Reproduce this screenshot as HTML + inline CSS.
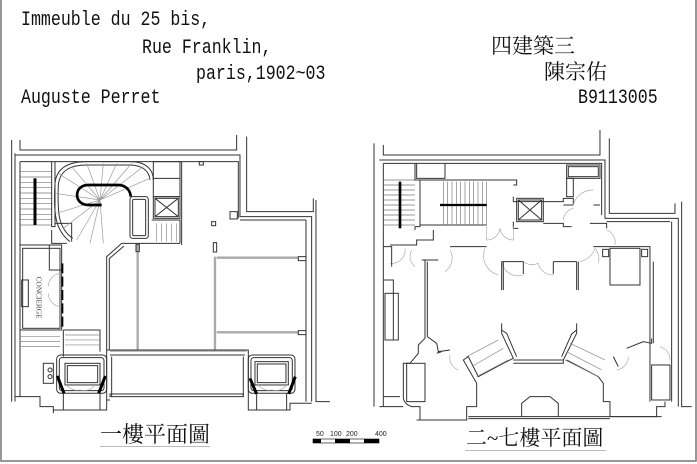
<!DOCTYPE html>
<html><head><meta charset="utf-8"><style>
html,body{margin:0;padding:0;background:#fff;}
body{width:697px;height:464px;position:relative;overflow:hidden;}
.t{position:absolute;font-family:"Liberation Mono",monospace;font-size:16.6px;color:#111;white-space:pre;line-height:1;transform:scaleY(1.2);transform-origin:0 100%;}
.c{position:absolute;font-family:"Liberation Serif","Noto Serif CJK SC","Noto Sans CJK TC",serif;color:#111;white-space:pre;line-height:1;}
svg{position:absolute;left:0;top:0;}
</style></head><body>
<div class="t" style="left:21px;top:14px">Immeuble du 25 bis,</div>
<div class="t" style="left:142px;top:42px">Rue Franklin,</div>
<div class="t" style="left:196px;top:68px">paris,1902~03</div>
<div class="t" style="left:21px;top:92px">Auguste Perret</div>
<div class="t" style="left:578px;top:92px">B9113005</div>
<div class="c" style="left:491px;top:36px;font-size:21px">四建築三</div>
<div class="c" style="left:544px;top:62px;font-size:21px">陳宗佑</div>
<div class="c" style="left:100px;top:424px;font-size:22px">一樓平面圖</div>
<div class="c" style="left:466px;top:428px;font-size:21px">二~七樓平面圖</div>
<svg width="697" height="464" viewBox="0 0 697 464">
<rect x="1" y="-2" width="695" height="463" fill="none" stroke="#777" stroke-width="1.5"/>
<line x1="100" y1="446.5" x2="210" y2="446.5" stroke="#bbb"/>
<line x1="465" y1="450.5" x2="606" y2="450.5" stroke="#bbb"/>
<g font-family="Liberation Sans,sans-serif" font-size="7" fill="#222"><text x="316" y="436">50</text><text x="330" y="436">100</text><text x="346" y="436">200</text><text x="375" y="436">400</text></g>
<rect x="313" y="439" width="66" height="4" fill="#fff" stroke="#000" stroke-width="0.6"/>
<rect x="313" y="439" width="8" height="4" fill="#000"/><rect x="335" y="439" width="15" height="4" fill="#000"/><rect x="364" y="439" width="15" height="4" fill="#000"/>

<!-- PLAN 1 -->
<g transform="translate(0,130) scale(0.3333)" fill="none" stroke="#333" stroke-width="3">
<path d="M35 30 V815 M45 70 V815 M60 30 V60 H710 V15 M740 20 V245 H940 V205 M948 210 V815 H990"/>
<path d="M45 75 H720 V260 H935 V815 M60 95 H715 V265 M918 270 V815 M720 270 H918 M60 95 V800"/>
<path d="M45 800 H120 V830 H160 V840 H320 V810 H330 M745 810 V840 H870 V820 H935" />
<g stroke="#777" stroke-width="2"><path d="M60 125 H155 M60 141 H155 M60 157 H155 M60 173 H155 M60 189 H155 M60 205 H155 M60 221 H155 M60 237 H155 M60 253 H155 M60 269 H155 M60 285 H155"/></g>
<line x1="105" y1="145" x2="105" y2="285" stroke="#000" stroke-width="9"/>
<path d="M155 95 V290 H165 V95 M165 280 H215 V335 M155 300 V340 H200"/>
<path d="M210 335 C165 300 160 250 165 160 C170 110 210 95 260 95 L390 95 C440 95 460 120 460 150"/>
<path d="M218 325 C175 295 172 250 175 165 C180 118 215 105 262 105 L388 105 C430 105 448 125 450 150"/>
<g stroke="#999" stroke-width="2"><path d="M300 210 L175 130 M300 210 L165 190 M300 210 L170 250 M300 210 L190 295 M300 210 L230 330 M300 210 L270 340 M300 210 L310 340 M300 210 L215 110 M300 210 L260 100 M300 210 L310 100 M300 210 L350 100 M300 210 L395 100 M300 210 L430 110 M300 210 L450 145"/></g>
<path d="M305 225 L265 225 C220 225 220 165 265 165 L355 165 C380 165 392 185 392 200" stroke="#000" stroke-width="8"/>
<rect x="390" y="200" width="55" height="125" rx="8"/><rect x="398" y="208" width="39" height="109" rx="4"/>
<rect x="460" y="95" width="80" height="105"/><line x1="460" y1="145" x2="540" y2="145"/>
<rect x="460" y="200" width="80" height="65"/><rect x="465" y="205" width="70" height="55"/><path d="M465 205 L535 260 M535 205 L465 260"/>
<path d="M455 270 H540 V340 M545 95 V345"/>
<g stroke="#888" stroke-width="2"><path d="M470 280 V335 M485 280 V335 M500 280 V335 M515 280 V335 M530 280 V335"/></g>
<path d="M365 340 H540 M365 340 L320 380 V660 M372 348 L328 386 V660"/>
<g stroke="#aaa" stroke-width="7"><path d="M413 345 V660 M645 380 V660 M650 383 H895 M650 607 H895 M330 662 H740"/></g>
<rect x="408" y="343" width="10" height="22"/><rect x="640" y="338" width="10" height="28"/>
<rect x="598" y="95" width="12" height="10"/><rect x="690" y="245" width="22" height="22"/><rect x="635" y="275" width="12" height="12"/>
<rect x="895" y="380" width="23" height="12"/><rect x="895" y="602" width="23" height="12"/>
<rect x="60" y="345" width="125" height="255"/><rect x="68" y="355" width="112" height="240"/>
<rect x="65" y="450" width="20" height="80"/><path d="M148 345 V420 H185"/>
<text x="0" y="0" font-size="22" fill="#444" stroke="none" transform="translate(110,440) rotate(90)" font-family="Liberation Serif,serif">CONCIERGE</text>
<g stroke="#aaa" stroke-width="2"><path d="M185 430 A40 40 0 0 0 145 470 M185 530 A40 40 0 0 1 145 490"/></g>
<path d="M187 400 V590" stroke="#000" stroke-width="6" stroke-dasharray="30 10"/>
<path d="M190 600 H300 V665 M190 600 V680"/>
<g stroke="#888" stroke-width="2"><path d="M195 615 H300 M195 630 H300 M195 645 H300 M60 620 H180 M60 635 H180 M60 650 H180"/></g>
<rect x="170" y="675" width="150" height="115" rx="12"/><rect x="178" y="683" width="134" height="99" rx="8"/>
<rect x="195" y="700" width="105" height="65"/><rect x="202" y="707" width="91" height="51"/>
<rect x="745" y="675" width="140" height="115" rx="12"/><rect x="753" y="683" width="124" height="99" rx="8"/>
<rect x="765" y="695" width="100" height="70"/><rect x="772" y="702" width="86" height="56"/>
<g stroke="#000" stroke-width="9"><path d="M172 738 L192 790 M316 738 L296 790 M750 745 L770 792 M886 740 L866 792"/></g>
<g stroke="#aaa" stroke-width="2"><path d="M200 765 A40 40 0 0 0 240 780 A40 40 0 0 0 285 765 M775 765 A40 40 0 0 0 815 780 A40 40 0 0 0 860 765"/></g>
<rect x="130" y="700" width="30" height="60"/><circle cx="150" cy="720" r="6"/><circle cx="150" cy="740" r="6"/>
<path d="M320 660 H745 V810 M320 660 V810 M330 675 H735 M335 680 V800 M730 680 V800"/>
<rect x="330" y="792" width="400" height="8"/>
<path d="M160 840 V850 M190 790 V840 M300 790 V840 M770 790 V840 M860 790 V840"/>
</g>

<!-- PLAN 2 -->
<g transform="translate(350,130) scale(0.3333)" fill="none" stroke="#333" stroke-width="3">
<path d="M72 40 V830 M100 45 V75 H750 V0 M778 25 V250 H975 V220 M995 215 V830 H1025"/>
<path d="M88 90 H765 V265 H985 V830 M100 100 H755 V255 M100 100 V830 M965 275 V815 M770 275 H960"/>
<path d="M88 830 H160 M100 800 H150"/>
<g stroke="#777" stroke-width="2"><path d="M100 150 H195 M100 165 H195 M100 180 H195 M100 195 H195 M100 210 H195 M100 225 H195 M100 240 H195 M100 255 H195 M100 270 H195 M100 285 H195"/></g>
<line x1="150" y1="155" x2="150" y2="295" stroke="#000" stroke-width="8"/>
<path d="M195 100 V150 H210 V290 H195 V300 M205 150 H500 V165 H490 M210 285 H410 M200 100 V145 H285 V100"/>
<g stroke="#777" stroke-width="2"><path d="M280 155 V285 M293 155 V285 M306 155 V285 M319 155 V285 M332 155 V285 M345 155 V285 M358 155 V285 M371 155 V285 M384 155 V285 M397 155 V285 M410 155 V285"/></g>
<line x1="270" y1="225" x2="410" y2="225" stroke="#000" stroke-width="7"/>
<rect x="500" y="205" width="80" height="70"/><rect x="505" y="210" width="70" height="60"/><path d="M505 210 L575 270 M575 210 L505 270"/>
<path d="M490 200 V215 H640 V205 H670 V225 M490 275 V295 H505 M580 280 H640 V290 H665 M640 225 H670 M730 225 H750 M720 280 H770 V295"/>
<rect x="650" y="105" width="100" height="40"/><rect x="655" y="110" width="90" height="30"/><rect x="650" y="145" width="20" height="55"/>
<g stroke="#aaa" stroke-width="2"><path d="M410 290 V330 A40 40 0 0 0 450 295 A40 40 0 0 0 490 330 V290 M670 225 A60 60 0 0 1 730 180 M640 270 A40 40 0 0 1 670 235 M770 300 A40 40 0 0 1 795 345 M120 400 A40 40 0 0 0 165 355 M185 360 A40 40 0 0 0 195 410 M300 360 A50 50 0 0 1 285 425 M405 355 A60 60 0 0 0 445 435 M455 395 A50 50 0 0 0 520 435 M520 395 A45 45 0 0 0 565 400 A45 45 0 0 0 610 435 M690 395 A60 60 0 0 0 735 355 M735 355 A50 50 0 0 1 745 400 M300 675 A40 40 0 0 0 325 720 M800 720 A40 40 0 0 0 835 680 M930 650 A40 40 0 0 1 960 690"/></g>
<path d="M100 350 H125 V410 M120 345 H200 V330 H250 V300 M300 350 H410 M730 350 H900 V815 M910 395 V640 M215 390 H265 M225 390 V625 M232 395 V620"/>
<path d="M455 395 V480 M460 395 V480 M455 395 H520 M610 395 H680 M680 395 V480 M685 395 V480 M520 395 V432 M610 395 V432"/>
<rect x="780" y="355" width="90" height="110"/><rect x="758" y="358" width="18" height="22"/><rect x="875" y="358" width="18" height="22"/>
<rect x="105" y="490" width="40" height="140"/><path d="M100 450 H130 V630"/>
<path d="M225 625 L205 645 V670 L180 700 H160 V800 C160 815 170 825 185 830 H210 V870 H350 V830 H380 V760 L340 690 L355 680 L385 740 L460 700 L490 685 L455 610 V580 M232 620 L260 640 L265 665 L300 660 M490 690 H640 V700 H490 M640 690 L680 610 V580 M650 690 L745 740 L760 760 V815 H780 V860 H920 V830 H945 V815 M790 680 L805 710 M830 655 L880 635 L905 640 V625 M260 670 L275 665"/>
<g stroke="#888" stroke-width="2"><path d="M350 680 L445 630 M365 710 L460 655 M380 740 L475 690 M660 640 L765 690 M650 665 L755 720 M645 690 L745 740"/></g>
<rect x="170" y="700" width="55" height="115"/><rect x="905" y="705" width="55" height="105"/>
<path d="M355 860 H780 M355 866 H780 M515 860 V820 L540 800 H600 L625 820 V860 M200 870 H350 M780 860 H935"/>
<path d="M455 600 L470 610 L500 680 M680 600 L665 612 L635 680"/>
</g>
</svg>
</body></html>
